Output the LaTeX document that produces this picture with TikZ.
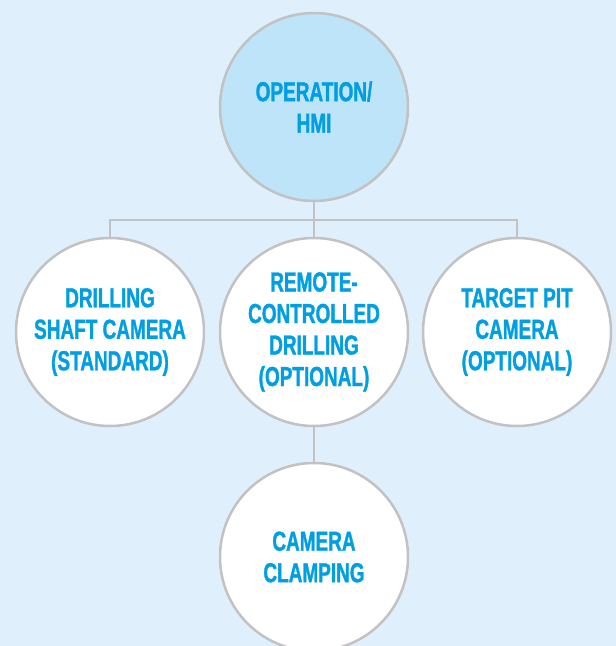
\documentclass[tikz,border=0pt]{standalone}
\usepackage{fontspec}
\setmainfont{Liberation Sans}[FakeStretch=0.69,FakeBold=1.2]
\usepackage{tikz}
\usetikzlibrary{positioning}
\definecolor{bgblue}{HTML}{DFF0FC}
\definecolor{topblue}{HTML}{BDE4F9}
\definecolor{txtblue}{HTML}{009FE3}
\definecolor{rimgray}{HTML}{C2C2C2}
\tikzset{
  bubble/.style={circle, draw=rimgray, line width=2.5pt, fill=white,
    minimum size=188pt, inner sep=0pt, align=center, text=txtblue,
    font=\fontsize{27.5}{31.5}\selectfont\bfseries},
  link/.style={draw=rimgray, line width=2pt}
}
\begin{document}
\begin{tikzpicture}[x=1pt,y=-1pt]
\fill[bgblue] (0,0) rectangle (616,646);
\useasboundingbox (0,0) rectangle (616,646);
\clip (0,0) rectangle (616,646);
\coordinate (hub) at (314,220);
\node[bubble, fill=topblue] (op) at (314,107) {OPERATION/\\HMI};
\node[bubble] (shaft) at (110,332) {DRILLING\\SHAFT CAMERA\\(STANDARD)};
\node[bubble] (remote) at (314,332) {REMOTE-\\CONTROLLED\\DRILLING\\(OPTIONAL)};
\node[bubble] (pit) at (517,332) {TARGET PIT\\CAMERA\\(OPTIONAL)};
\node[bubble] (clamp) at (314,557) {CAMERA\\CLAMPING};
% connectors
\draw[link] (op.south) -- (hub);
\draw[link] (hub) -| (shaft.north);
\draw[link] (hub) -| (pit.north);
\draw[link] (hub) -- (remote.north);
\draw[link] (remote.south) -- (clamp.north);
\end{tikzpicture}
\end{document}
